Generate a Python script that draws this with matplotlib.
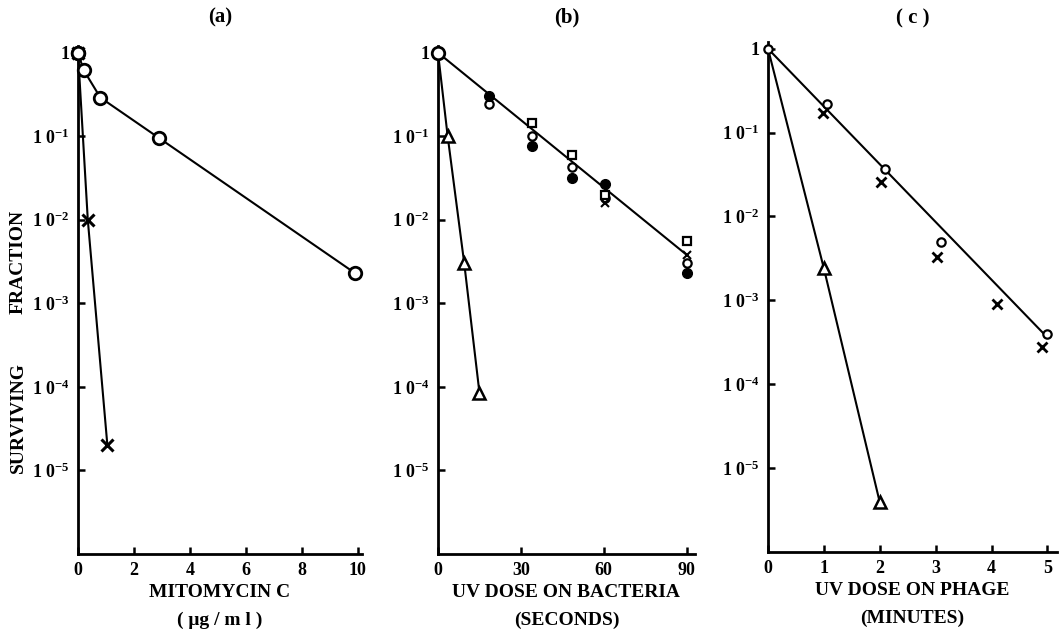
import matplotlib
matplotlib.use('Agg')
import matplotlib.pyplot as plt

plt.rcParams['font.family'] = 'Liberation Serif'
plt.rcParams['font.weight'] = 'bold'
plt.rcParams['mathtext.fontset'] = 'custom'
plt.rcParams['mathtext.rm'] = 'Liberation Serif:bold'
plt.rcParams['mathtext.it'] = 'Liberation Serif:bold'
plt.rcParams['mathtext.bf'] = 'Liberation Serif:bold'

# panel (a): mitomycin C
a_circ_x = [0, 0.2, 0.8, 2.9, 9.9]
a_circ_y = [1, 0.62, 0.29, 0.095, 0.0023]
a_cross_x = [0, 0.35, 1.05]
a_cross_y = [1, 1e-2, 2e-5]

# panel (b): UV dose on bacteria (seconds)
b_tri_x = [0, 3.5, 9.5, 15]
b_tri_y = [1, 0.1, 3e-3, 8.5e-5]
b_fit_x = [0, 90]
b_fit_y = [1, 0.0038]
b_open_x = [0, 18.5, 34, 48.5, 60.5, 90]
b_open_y = [1, 0.24, 0.10, 0.043, 0.018, 0.003]
b_fill_x = [18.5, 34, 48.5, 60.5, 90]
b_fill_y = [0.30, 0.076, 0.032, 0.027, 0.0023]
b_sq_x = [34, 48.5, 60.5, 90]
b_sq_y = [0.144, 0.06, 0.02, 0.0055]
b_cross_x = [60.5, 90]
b_cross_y = [0.016, 0.0038]

# panel (c): UV dose on phage (minutes)
c_tri_x = [0, 1, 2]
c_tri_y = [1, 2.4e-3, 3.9e-6]
c_fit_x = [0, 5]
c_fit_y = [1, 3.6e-4]
c_open_x = [0, 1.05, 2.1, 3.1, 5.0]
c_open_y = [1, 0.22, 0.037, 0.0049, 0.0004]
c_cross_x = [0.98, 2.03, 3.03, 4.1, 4.9]
c_cross_y = [0.17, 0.026, 0.0033, 0.0009, 0.00028]

ytick_vals = [1, 1e-1, 1e-2, 1e-3, 1e-4, 1e-5]
ytick_labels = ['1', '1 0$^{-1}$', '1 0$^{-2}$', '1 0$^{-3}$', '1 0$^{-4}$', '1 0$^{-5}$']

W, H = 1060, 631
fig = plt.figure(figsize=(W / 100, H / 100), dpi=100)


def make_axes(left, right, bottom, top, xmax, xticks, xticklabels):
    ax = fig.add_axes([left / W, 1 - bottom / H, (right - left) / W, (bottom - top) / H])
    ax.set_yscale('log')
    ax.set_ylim(1e-6, 10 ** 0.08)
    ax.set_xlim(0, xmax)
    ax.spines['top'].set_visible(False)
    ax.spines['right'].set_visible(False)
    for s in ('left', 'bottom'):
        ax.spines[s].set_linewidth(2)
    ax.set_yticks(ytick_vals)
    ax.set_yticklabels(ytick_labels, fontsize=13)
    ax.minorticks_off()
    ax.set_xticks(xticks)
    ax.set_xticklabels(xticklabels, fontsize=13)
    ax.tick_params(direction='in', length=5, width=1.8, pad=6)
    ax.patch.set_alpha(0)
    return ax


lw = 1.5
ms_big = 9
ms_small = 6
lab_fs = 14

# (a)
ax = make_axes(78, 362, 554, 46, 10.15, [0, 2, 4, 6, 8, 10], ['0', '2', '4', '6', '8', '10'])
ax.plot(a_circ_x, a_circ_y, '-o', color='black', lw=lw, ms=ms_big, mfc='white', mew=2, clip_on=False, zorder=3)
ax.plot(a_cross_x, a_cross_y, '-x', color='black', lw=lw, ms=ms_small + 2, mew=2.2, clip_on=False, zorder=2)
ax.plot(a_circ_x[:1], a_circ_y[:1], 'o', color='black', ms=ms_big, mfc='white', mew=2, clip_on=False, zorder=4)
ax.set_title('(a)', fontsize=15, fontweight='bold', pad=17)
ax.text(0.5, -0.075, 'MITOMYCIN C', transform=ax.transAxes, ha='center', va='center', fontsize=lab_fs)
ax.text(0.5, -0.13, '( μg / m l )', transform=ax.transAxes, ha='center', va='center', fontsize=lab_fs)
fig.text(18 / W, 1 - 262 / H, 'FRACTION', rotation=90, ha='center', va='center', fontsize=lab_fs)
fig.text(18 / W, 1 - 418 / H, 'SURVIVING', rotation=90, ha='center', va='center', fontsize=lab_fs)

# (b)
ax = make_axes(438, 695, 554, 46, 93, [0, 30, 60, 90], ['0', '30', '60', '90'])
ax.plot(b_fit_x, b_fit_y, '-', color='black', lw=lw, clip_on=False)
ax.plot(b_tri_x, b_tri_y, '-', color='black', lw=lw, clip_on=False)
ax.plot(b_tri_x[1:], b_tri_y[1:], '^', color='black', ms=ms_big, mfc='white', mew=1.8, clip_on=False)
ax.plot(b_open_x[:1], b_open_y[:1], 'o', color='black', ms=ms_big, mfc='white', mew=2, clip_on=False, zorder=4)
ax.plot(b_open_x[1:], b_open_y[1:], 'o', color='black', ms=ms_small, mfc='white', mew=1.6, clip_on=False, zorder=4)
ax.plot(b_fill_x, b_fill_y, 'o', color='black', ms=ms_small + 1, clip_on=False, zorder=4)
ax.plot(b_sq_x, b_sq_y, 's', color='black', ms=ms_small, mfc='white', mew=1.6, clip_on=False, zorder=4)
ax.plot(b_cross_x, b_cross_y, 'x', color='black', ms=ms_small, mew=1.5, clip_on=False, zorder=4)
ax.set_title('(b)', fontsize=15, fontweight='bold', pad=17)
ax.text(0.5, -0.075, 'UV DOSE ON BACTERIA', transform=ax.transAxes, ha='center', va='center', fontsize=lab_fs)
ax.text(0.5, -0.13, '(SECONDS)', transform=ax.transAxes, ha='center', va='center', fontsize=lab_fs)

# (c)
ax = make_axes(768, 1057, 552, 42, 5.17, [0, 1, 2, 3, 4, 5], ['0', '1', '2', '3', '4', '5'])
ax.plot(c_fit_x, c_fit_y, '-', color='black', lw=lw, clip_on=False)
ax.plot(c_tri_x, c_tri_y, '-', color='black', lw=lw, clip_on=False)
ax.plot(c_tri_x[1:], c_tri_y[1:], '^', color='black', ms=ms_big, mfc='white', mew=1.8, clip_on=False)
ax.plot(c_open_x, c_open_y, 'o', color='black', ms=ms_small, mfc='white', mew=1.6, clip_on=False, zorder=4)
ax.plot(c_cross_x, c_cross_y, 'x', color='black', ms=ms_small + 1, mew=2, clip_on=False, zorder=4)
ax.set_title('( c )', fontsize=15, fontweight='bold', pad=13)
ax.text(0.5, -0.075, 'UV DOSE ON PHAGE', transform=ax.transAxes, ha='center', va='center', fontsize=lab_fs)
ax.text(0.5, -0.13, '(MINUTES)', transform=ax.transAxes, ha='center', va='center', fontsize=lab_fs)

fig.savefig('out.png', dpi=100)
